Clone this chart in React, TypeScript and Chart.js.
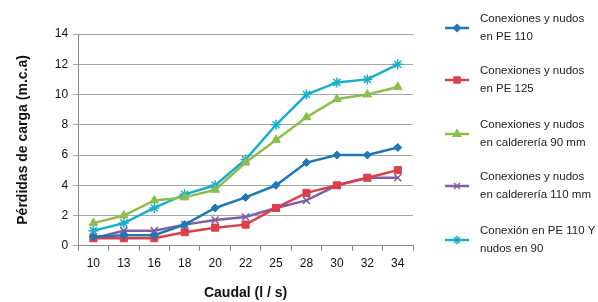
import React, { useEffect, useRef } from "react";
import { Chart, registerables } from "chart.js";
import { drawPoint } from "chart.js/helpers";

Chart.register(...registerables);

const categories = ["10", "13", "16", "18", "20", "22", "25", "28", "30", "32", "34"];
const pe110 = [0.6, 0.7, 0.7, 1.4, 2.5, 3.2, 4.0, 5.5, 6.0, 6.0, 6.5];
const pe125 = [0.5, 0.5, 0.5, 0.9, 1.2, 1.4, 2.5, 3.5, 4.0, 4.5, 5.0];
const cal90 = [1.5, 2.0, 3.0, 3.2, 3.7, 5.5, 7.0, 8.5, 9.7, 10.0, 10.5];
const cal110 = [0.5, 1.0, 1.0, 1.4, 1.7, 1.9, 2.5, 3.0, 4.0, 4.5, 4.5];
const pe110y = [1.0, 1.5, 2.5, 3.4, 4.0, 5.7, 8.0, 10.0, 10.8, 11.0, 12.0];

const seriesLabels = [
  ["Conexiones y nudos", "en PE 110"],
  ["Conexiones y nudos", "en PE 125"],
  ["Conexiones y nudos", "en calderería 90 mm"],
  ["Conexiones y nudos", "en calderería 110 mm"],
  ["Conexión en PE 110 Y", "nudos en 90"],
];
const colors = ["#1f77b6", "#d9404b", "#8dbd4f", "#7f5ea8", "#1aafc8"];
const pointStyles = ["rectRot", "rect", "triangle", "crossRot", "star"];
const pointRadii = [4, 5, 5, 5, 5];
const FONT = "'Liberation Sans', Arial, sans-serif";

const legendPlugin = {
  id: "sideLegend",
  afterDraw(chart: any) {
    const ctx = chart.ctx;
    const x0 = 445;
    const ys = [19, 71, 125, 177, 231];
    ctx.save();
    chart.data.datasets.forEach((ds: any, i: number) => {
      const y = ys[i] + 9;
      ctx.strokeStyle = ds.borderColor;
      ctx.lineWidth = 2.5;
      ctx.beginPath();
      ctx.moveTo(x0, y);
      ctx.lineTo(x0 + 24, y);
      ctx.stroke();
      ctx.fillStyle = ds.backgroundColor;
      ctx.strokeStyle = ds.borderColor;
      ctx.lineWidth = 1.5;
      drawPoint(
        ctx,
        { pointStyle: ds.pointStyle, radius: ds.pointRadius * 0.85, borderWidth: 1.5, rotation: 0 } as any,
        x0 + 12,
        y
      );
      ctx.fillStyle = "#222";
      ctx.font = `11.5px ${FONT}`;
      ctx.textBaseline = "middle";
      ctx.textAlign = "left";
      seriesLabels[i].forEach((t, k) => ctx.fillText(t, 480, ys[i] + k * 18));
    });
    ctx.restore();
  },
};

export default function App() {
  const ref = useRef<HTMLCanvasElement>(null);
  useEffect(() => {
    document.body.style.margin = "0";
    const data = [pe110, pe125, cal90, cal110, pe110y];
    const chart = new Chart(ref.current!, {
      type: "line",
      data: {
        labels: categories,
        datasets: data.map((d, i) => ({
          label: seriesLabels[i].join(" "),
          data: d,
          borderColor: colors[i],
          backgroundColor: colors[i],
          borderWidth: 2.5,
          pointStyle: pointStyles[i] as any,
          pointRadius: pointRadii[i],
          pointBorderWidth: i >= 3 ? 1.5 : 1,
          tension: 0,
        })),
      },
      options: {
        responsive: false,
        animation: false,
        layout: { padding: { left: 15, top: 34, right: 185, bottom: 0 } },
        plugins: {
          legend: { display: false },
          tooltip: { enabled: false },
        },
        scales: {
          x: {
            offset: true,
            grid: {
              offset: true,
              drawOnChartArea: false,
              drawTicks: true,
              tickLength: 5,
              color: "#888",
            },
            border: { color: "#888" },
            ticks: { color: "#111", font: { family: FONT, size: 12 }, padding: 6 },
            title: {
              display: true,
              text: "Caudal (l / s)",
              color: "#111",
              font: { family: FONT, size: 14, weight: "bold" },
              padding: { top: 8, bottom: 0 },
            },
          },
          y: {
            min: 0,
            max: 14,
            ticks: { stepSize: 2, color: "#111", font: { family: FONT, size: 12 }, padding: 5 },
            grid: { color: "#a6a6a6", tickLength: 5, lineWidth: 1 },
            border: { color: "#888" },
            title: {
              display: true,
              text: "Pérdidas de carga (m.c.a)",
              color: "#111",
              font: { family: FONT, size: 14, weight: "bold" },
              padding: { top: 0, bottom: 18 },
            },
          },
        },
      },
      plugins: [legendPlugin],
    });
    return () => chart.destroy();
  }, []);
  return <canvas ref={ref} width={598} height={302} style={{ display: "block" }} />;
}
